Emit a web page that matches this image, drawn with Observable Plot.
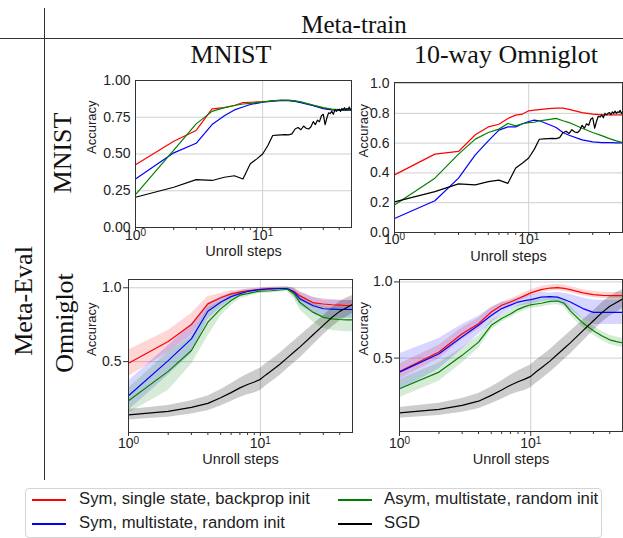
<!DOCTYPE html>
<html>
<head>
<meta charset="utf-8">
<script src="https://cdn.jsdelivr.net/npm/d3@7"></script>
<script src="https://cdn.jsdelivr.net/npm/@observablehq/plot@0.6"></script>
<style>
  body { margin: 0; background: #fff; }
  #chart { position: relative; width: 623px; height: 538px; overflow: hidden; background: #fff; }
  .hdr { position: absolute; font-family: "Liberation Serif", "Times New Roman", serif; color: #111; white-space: nowrap; line-height: 1; }
  .rot { transform: translate(-50%, -50%) rotate(-90deg); }
  .ctr { transform: translate(-50%, 0); }
  .rule { position: absolute; background: #333; }
  .leg { position: absolute; font-family: "Liberation Sans", Arial, sans-serif; font-size: 16.7px; color: #222; white-space: nowrap; line-height: 1; }
  .sw { position: absolute; height: 1.5px; }
</style>
</head>
<body>
<div id="chart"></div>
<script>
// ---------- data ----------
const steps = [1,2,3,4,5,6,7,8,9,10,11,12,14,16,18,20,25,30,35,40,45,50];
const sgdSteps = d3.range(1, 51);

const seriesNames = ["Sym, single state, backprop init", "Sym, multistate, random init", "Asym, multistate, random init", "SGD"];
const seriesColors = ["#ff0000", "#0000ff", "#008000", "#000000"];

// Meta-train MNIST -> Meta-eval MNIST
const mmRed   = [0.427,0.587,0.66,0.807,0.815,0.83,0.85,0.852,0.854,0.856,0.859,0.862,0.865,0.864,0.86,0.852,0.83,0.812,0.802,0.80,0.80,0.80];
const mmBlue  = [0.33,0.508,0.573,0.70,0.76,0.80,0.82,0.837,0.845,0.852,0.856,0.86,0.864,0.863,0.858,0.85,0.828,0.808,0.80,0.798,0.798,0.798];
const mmGreen = [0.224,0.526,0.705,0.79,0.815,0.83,0.84,0.845,0.85,0.855,0.858,0.862,0.866,0.866,0.862,0.855,0.833,0.815,0.805,0.802,0.80,0.80];

// Meta-train Omniglot -> Meta-eval MNIST
const omRed   = [0.387,0.526,0.544,0.656,0.709,0.727,0.765,0.788,0.795,0.817,0.821,0.825,0.832,0.835,0.835,0.826,0.805,0.795,0.79,0.79,0.79,0.79];
const omBlue  = [0.094,0.213,0.365,0.521,0.615,0.687,0.709,0.709,0.73,0.745,0.754,0.75,0.727,0.705,0.671,0.653,0.622,0.609,0.604,0.603,0.602,0.602];
const omGreen = [0.184,0.365,0.526,0.627,0.671,0.694,0.732,0.716,0.73,0.738,0.74,0.75,0.758,0.766,0.75,0.738,0.70,0.671,0.65,0.63,0.615,0.605];

// SGD evaluated on MNIST (unroll steps 1..50)
const sgdMnist = [0.206,0.274,0.326,0.32,0.342,0.352,0.33,0.433,0.467,0.50,0.558,0.626,0.628,0.63,0.632,0.63,0.637,0.67,0.68,0.665,
                  0.69,0.675,0.67,0.685,0.72,0.70,0.73,0.72,0.76,0.77,0.70,0.745,0.78,0.775,0.79,0.77,0.80,0.79,0.80,0.805,
                  0.79,0.81,0.80,0.815,0.80,0.81,0.805,0.82,0.80,0.81];

// Meta-train MNIST -> Meta-eval Omniglot (mean, spread)
const moRed     = [0.489,0.636,0.751,0.891,0.932,0.959,0.97,0.98,0.985,0.99,0.992,0.994,0.995,0.995,0.975,0.945,0.90,0.89,0.885,0.882,0.88,0.88];
const moRedSd   = [0.09,0.075,0.075,0.05,0.03,0.02,0.015,0.012,0.01,0.01,0.01,0.01,0.01,0.01,0.02,0.03,0.035,0.035,0.035,0.035,0.035,0.035];
const moBlue    = [0.269,0.507,0.654,0.841,0.902,0.94,0.96,0.975,0.982,0.987,0.99,0.993,0.995,0.995,0.97,0.925,0.88,0.858,0.855,0.853,0.853,0.853];
const moBlueSd  = [0.10,0.10,0.10,0.055,0.035,0.025,0.02,0.015,0.01,0.01,0.01,0.01,0.01,0.01,0.03,0.045,0.055,0.06,0.06,0.06,0.06,0.06];
const moGreen   = [0.235,0.434,0.575,0.767,0.857,0.914,0.95,0.96,0.97,0.977,0.978,0.98,0.985,0.99,0.96,0.90,0.835,0.80,0.79,0.785,0.783,0.783];
const moGreenSd = [0.085,0.13,0.095,0.095,0.05,0.035,0.025,0.02,0.015,0.015,0.015,0.015,0.015,0.015,0.035,0.05,0.065,0.075,0.08,0.08,0.08,0.08];

// Meta-train Omniglot -> Meta-eval Omniglot (mean, spread)
const ooRed     = [0.412,0.54,0.66,0.726,0.803,0.847,0.868,0.89,0.91,0.928,0.94,0.95,0.96,0.963,0.958,0.95,0.928,0.917,0.912,0.91,0.91,0.91];
const ooRedSd   = [0.05,0.045,0.04,0.035,0.03,0.02,0.02,0.02,0.02,0.02,0.02,0.02,0.02,0.02,0.02,0.02,0.02,0.02,0.02,0.02,0.02,0.02];
const ooBlue    = [0.408,0.529,0.64,0.715,0.78,0.825,0.848,0.868,0.877,0.884,0.892,0.90,0.903,0.90,0.885,0.868,0.825,0.80,0.80,0.80,0.80,0.80];
const ooBlueSd  = [0.12,0.10,0.08,0.06,0.05,0.04,0.03,0.03,0.03,0.03,0.03,0.03,0.025,0.03,0.04,0.05,0.07,0.08,0.08,0.08,0.08,0.08];
const ooGreen   = [0.299,0.408,0.518,0.605,0.715,0.76,0.79,0.82,0.838,0.85,0.855,0.86,0.872,0.875,0.86,0.81,0.73,0.68,0.645,0.62,0.608,0.60];
const ooGreenSd = [0.06,0.06,0.05,0.04,0.03,0.025,0.025,0.025,0.025,0.025,0.025,0.025,0.025,0.025,0.025,0.03,0.03,0.03,0.03,0.03,0.03,0.03];

// SGD evaluated on Omniglot (mean, spread)
const sgdOmni   = [0.14,0.163,0.19,0.217,0.255,0.29,0.322,0.345,0.362,0.38,0.41,0.435,0.48,0.525,0.565,0.60,0.68,0.745,0.80,0.84,0.865,0.888];
const sgdOmniSd = [0.035,0.04,0.045,0.05,0.055,0.06,0.065,0.07,0.075,0.075,0.075,0.075,0.075,0.075,0.075,0.075,0.07,0.065,0.065,0.065,0.065,0.06];

const xMajor = [1, 10];
const xMajorExp = {1: "0", 10: "1"};
const xMinor = [2,3,4,5,6,7,8,9,20,30,40];
const yTicksTL = [0, 0.25, 0.5, 0.75, 1.0];
const yTicksTR = [0, 0.2, 0.4, 0.6, 0.8, 1.0];
const yTicksB  = [0.5, 1.0];

// ---------- helpers ----------
const rows = (xs, ys, sd) => xs.map((x, i) => ({x, y: ys[i], lo: sd ? ys[i] - sd[i] : null, hi: sd ? ys[i] + sd[i] : null}));

function panel(o) {
  const marks = [
    Plot.gridY(o.yTicks, {stroke: "#cfcfcf", strokeOpacity: 1, strokeWidth: 1}),
    Plot.gridX([10], {stroke: "#cfcfcf", strokeOpacity: 1, strokeWidth: 1})
  ];
  o.series.forEach((s, i) => {
    if (s.sd) marks.push(Plot.areaY(rows(s.xs, s.ys, s.sd), {x: "x", y1: "lo", y2: "hi", fill: seriesColors[i], fillOpacity: i === 3 ? 0.2 : 0.16, clip: true, curve: "linear"}));
  });
  o.series.forEach((s, i) => {
    marks.push(Plot.line(rows(s.xs, s.ys), {x: "x", y: "y", stroke: seriesColors[i], strokeWidth: 1.2, clip: true}));
  });
  marks.push(
    Plot.frame({stroke: "#333", strokeWidth: 1}),
    Plot.axisX(xMajor, {tickFormat: d => "10^" + xMajorExp[d], tickSize: o.xTick, tickPadding: o.xPad, fontSize: 14, stroke: "#333", color: "#222", label: null}),
    Plot.axisX(xMinor, {tickFormat: () => "", tickSize: 3, stroke: "#333", label: null}),
    Plot.axisY(o.yTicks, {tickFormat: o.yFormat, tickSize: o.yTick, tickPadding: o.yPad, fontSize: 14, stroke: "#333", color: "#222", label: null}),
    Plot.text(["Unroll steps"], {frameAnchor: "bottom", dy: o.xlab, fontSize: 14.5, fill: "#222"}),
    Plot.text(["Accuracy"], {frameAnchor: "left", dx: o.ylab, rotate: -90, fontSize: 13, fill: "#222"})
  );
  const svg = Plot.plot({
    width: o.width, height: o.height,
    marginLeft: o.ml, marginRight: o.mr, marginTop: o.mt, marginBottom: o.mb,
    x: {type: "log", domain: [1, 50]},
    y: {domain: o.yDomain},
    style: {fontFamily: "'Liberation Sans', Arial, sans-serif", fontSize: "14px", color: "#222", background: "transparent", overflow: "visible"},
    marks
  });
  // turn "10^k" tick labels into 10 with a raised exponent
  d3.select(svg).selectAll("text").each(function () {
    const t = this.textContent;
    if (/^10\^\d$/.test(t)) {
      const e = t.slice(3);
      const sel = d3.select(this);
      sel.text("10");
      sel.append("tspan").attr("dy", "-0.45em").attr("font-size", "10px").text(e);
    }
  });
  svg.style.position = "absolute";
  svg.style.left = o.left + "px";
  svg.style.top = o.top + "px";
  return svg;
}

const chart = document.getElementById("chart");

const f2 = d3.format(".2f"), f1 = d3.format(".1f");

chart.appendChild(panel({
  left: 70, top: 70, width: 290, height: 197, ml: 65, mr: 9, mt: 10, mb: 40,
  yDomain: [0, 1], yTicks: yTicksTL, yFormat: f2, yTick: 0, yPad: 5, xTick: 3, xPad: 0, xlab: 28, ylab: -44,
  series: [{xs: steps, ys: mmRed}, {xs: steps, ys: mmBlue}, {xs: steps, ys: mmGreen}, {xs: sgdSteps, ys: sgdMnist}]
}));
chart.appendChild(panel({
  left: 350, top: 72, width: 273, height: 200, ml: 44, mr: 1, mt: 10, mb: 40,
  yDomain: [0, 1.007], yTicks: yTicksTR, yFormat: f1, yTick: 0, yPad: 5, xTick: 3, xPad: -1, xlab: 28, ylab: -31,
  series: [{xs: steps, ys: omRed}, {xs: steps, ys: omBlue}, {xs: steps, ys: omGreen}, {xs: sgdSteps, ys: sgdMnist}]
}));
chart.appendChild(panel({
  left: 60, top: 269, width: 300, height: 203, ml: 68, mr: 8, mt: 10, mb: 40,
  yDomain: [0.02, 1.056], yTicks: yTicksB, yFormat: f1, yTick: 5, yPad: 2, xTick: 4, xPad: 2, xlab: 31, ylab: -37,
  series: [{xs: steps, ys: moRed, sd: moRedSd}, {xs: steps, ys: moBlue, sd: moBlueSd}, {xs: steps, ys: moGreen, sd: moGreenSd}, {xs: steps, ys: sgdOmni, sd: sgdOmniSd}]
}));
chart.appendChild(panel({
  left: 350, top: 269, width: 273, height: 202, ml: 49, mr: 1, mt: 10, mb: 40,
  yDomain: [0.018, 1.016], yTicks: yTicksB, yFormat: f1, yTick: 5, yPad: 2, xTick: 5, xPad: 2, xlab: 32, ylab: -36,
  series: [{xs: steps, ys: ooRed, sd: ooRedSd}, {xs: steps, ys: ooBlue, sd: ooBlueSd}, {xs: steps, ys: ooGreen, sd: ooGreenSd}, {xs: steps, ys: sgdOmni, sd: sgdOmniSd}]
}));

// ---------- headers & rules ----------
function addDiv(cls, text, css) {
  const d = document.createElement("div");
  d.className = cls;
  if (text) d.textContent = text;
  Object.assign(d.style, css);
  chart.appendChild(d);
  return d;
}
addDiv("rule", null, {left: "0px", top: "38px", width: "623px", height: "1px"});
addDiv("rule", null, {left: "44px", top: "8px", width: "1px", height: "472px"});

addDiv("hdr ctr", "Meta-train", {left: "354px", top: "12px", fontSize: "25px"});
addDiv("hdr ctr", "MNIST", {left: "231px", top: "42px", fontSize: "26px"});
addDiv("hdr ctr", "10-way Omniglot", {left: "506px", top: "42px", fontSize: "26px"});
addDiv("hdr rot", "Meta-Eval", {left: "24px", top: "301px", fontSize: "26px"});
addDiv("hdr rot", "MNIST", {left: "63px", top: "153px", fontSize: "26px"});
addDiv("hdr rot", "Omniglot", {left: "65px", top: "323px", fontSize: "26px"});

// ---------- legend ----------
addDiv("", null, {position: "absolute", left: "25px", top: "488px", width: "577px", height: "50px", border: "1px solid #d5d5d5", borderRadius: "4px", boxSizing: "border-box"});
const legPos = [[32, 79, 500], [32, 79, 524], [338, 384, 500], [338, 384, 524]];
[0, 1, 2, 3].forEach((si, k) => {
  const [lx, tx, cy] = legPos[k];
  addDiv("sw", null, {left: lx + "px", top: (cy - 0.75) + "px", width: "34px", background: seriesColors[si]});
  addDiv("leg", seriesNames[si], {left: tx + "px", top: (cy - 9) + "px"});
});
</script>
</body>
</html>
